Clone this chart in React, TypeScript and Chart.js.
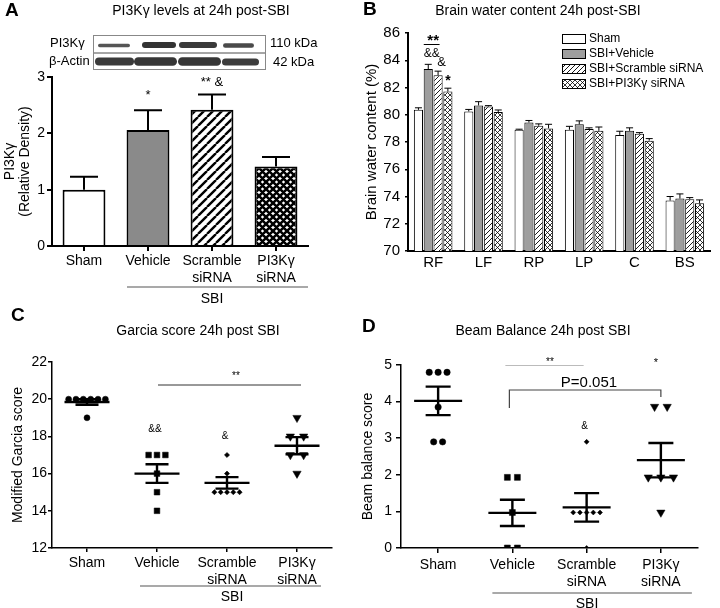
import React, { useEffect, useRef } from 'react';
import { Chart, registerables } from 'chart.js';

Chart.register(...registerables);

const FONT = "'Liberation Sans', Arial, Helvetica, sans-serif";
Chart.defaults.font.family = FONT;
Chart.defaults.color = '#000';

// ---------------- Panel A : PI3Kγ relative density ----------------
const aCategories: string[][] = [['Sham'], ['Vehicle'], ['Scramble', 'siRNA'], ['PI3Kγ', 'siRNA']];
const aValues = [1.0, 2.06, 2.42, 1.41];
const aErrors = [0.23, 0.35, 0.27, 0.17];
const aYTicks = [0, 1, 2, 3];
const aSignif = ['', '*', '** &', ''];

// ---------------- Panel B : brain water content ----------------
const bRegions = ['RF', 'LF', 'RP', 'LP', 'C', 'BS'];
const bSeriesNames = ['Sham', 'SBI+Vehicle', 'SBI+Scramble siRNA', 'SBI+PI3Kγ siRNA'];
const bSham = [80.36, 80.24, 78.9, 78.9, 78.52, 73.7];
const bShamErr = [0.15, 0.15, 0.04, 0.25, 0.27, 0.3];
const bVehicle = [83.35, 80.68, 79.43, 79.3, 78.82, 73.85];
const bVehicleErr = [0.35, 0.28, 0.15, 0.25, 0.22, 0.34];
const bScramble = [82.9, 80.6, 79.19, 78.95, 78.6, 73.8];
const bScrambleErr = [0.3, 0.07, 0.14, 0.09, 0.09, 0.12];
const bPI3K = [81.7, 80.2, 79.0, 78.82, 78.1, 73.5];
const bPI3KErr = [0.25, 0.15, 0.3, 0.28, 0.15, 0.25];
const bYTicks = [70, 72, 74, 76, 78, 80, 82, 84, 86];

// ---------------- Panel C : Garcia score ----------------
const groupCategories: string[][] = [['Sham'], ['Vehicle'], ['Scramble', 'siRNA'], ['PI3Kγ', 'siRNA']];
const cSham = [20, 20, 20, 20, 20, 20, 19];
const cVehicle = [17, 17, 17, 16, 15, 14];
const cScramble = [17, 16, 15, 15, 15, 15, 15];
const cPI3K = [19, 18, 18, 17, 17, 16];
const cMean = [19.85, 16.0, 15.5, 17.5];
const cSem = [0.15, 0.5, 0.31, 0.46];
const cYTicks = [12, 14, 16, 18, 20, 22];

// ---------------- Panel D : Beam balance ----------------
const dSham = [4.8, 4.8, 4.8, 3.85, 2.9, 2.9];
const dVehicle = [1.93, 1.93, 0.97, 0, 0];
const dScramble = [2.9, 0.97, 0.97, 0.97, 0.97, 0.97, 0];
const dPI3K = [3.86, 3.86, 1.93, 1.93, 1.93, 0.97];
const dMean = [4.02, 0.96, 1.11, 2.4];
const dSem = [0.39, 0.36, 0.39, 0.47];
const dYTicks = [0, 1, 2, 3, 4, 5];

// ---------------- helpers ----------------
function txt(ctx: CanvasRenderingContext2D, s: string, x: number, y: number, size: number, o: any = {}) {
  ctx.save();
  ctx.font = `${o.bold ? 'bold ' : ''}${size}px ${FONT}`;
  ctx.fillStyle = o.color || '#000';
  ctx.textAlign = o.align || 'center';
  ctx.textBaseline = o.baseline || 'middle';
  ctx.fillText(s, x, y);
  ctx.restore();
}

function hatch(size: number, lw: number, cross: boolean, bg = '#fff', fg = '#000') {
  const c = document.createElement('canvas');
  c.width = size; c.height = size;
  const g = c.getContext('2d')!;
  g.fillStyle = bg; g.fillRect(0, 0, size, size);
  g.strokeStyle = fg; g.lineWidth = lw;
  g.beginPath();
  for (const o of [-size, 0, size]) { g.moveTo(o, size); g.lineTo(o + size, 0); }
  if (cross) for (const o of [-size, 0, size]) { g.moveTo(o, 0); g.lineTo(o + size, size); }
  g.stroke();
  return g.createPattern(c, 'repeat')!;
}

function jitter(values: number[], center: number, spacing: number) {
  const counts = new Map<number, number>();
  values.forEach(v => counts.set(v, (counts.get(v) || 0) + 1));
  const seen = new Map<number, number>();
  return values.map(v => {
    const n = counts.get(v)!;
    const k = seen.get(v) || 0;
    seen.set(v, k + 1);
    return { x: center + (k - (n - 1) / 2) * spacing, y: v };
  });
}

function drawErrorBars(chart: any, errs: number[][], capHalf: number, lw: number) {
  const { ctx } = chart;
  const y = chart.scales.y;
  ctx.save();
  ctx.strokeStyle = '#000';
  ctx.lineWidth = lw;
  chart.data.datasets.forEach((ds: any, di: number) => {
    const meta = chart.getDatasetMeta(di);
    meta.data.forEach((bar: any, j: number) => {
      const top = y.getPixelForValue(ds.data[j] + errs[di][j]);
      ctx.beginPath();
      ctx.moveTo(bar.x, bar.y);
      ctx.lineTo(bar.x, top);
      ctx.moveTo(bar.x - capHalf, top);
      ctx.lineTo(bar.x + capHalf, top);
      ctx.stroke();
    });
  });
  ctx.restore();
}

function drawMeanSem(chart: any, means: number[], sems: number[], halfMean: number, halfCap: number) {
  const { ctx } = chart;
  const { x, y } = chart.scales;
  ctx.save();
  ctx.strokeStyle = '#000';
  ctx.lineWidth = 2.4;
  means.forEach((m, i) => {
    const cx = x.getPixelForValue(i);
    const ym = y.getPixelForValue(m);
    const yt = y.getPixelForValue(m + sems[i]);
    const yb = y.getPixelForValue(m - sems[i]);
    ctx.beginPath();
    ctx.moveTo(cx - halfMean, ym); ctx.lineTo(cx + halfMean, ym);
    ctx.moveTo(cx - halfCap, yt); ctx.lineTo(cx + halfCap, yt);
    ctx.moveTo(cx - halfCap, yb); ctx.lineTo(cx + halfCap, yb);
    ctx.moveTo(cx, yt); ctx.lineTo(cx, yb);
    ctx.stroke();
  });
  ctx.restore();
}

function groupLine(ctx: CanvasRenderingContext2D, x0: number, x1: number, y: number, label: string, lx: number, ly: number) {
  ctx.save();
  ctx.strokeStyle = '#555';
  ctx.lineWidth = 1.2;
  ctx.beginPath();
  ctx.moveTo(x0, y); ctx.lineTo(x1, y);
  ctx.stroke();
  ctx.restore();
  txt(ctx, label, lx, ly, 14);
}

function drawBlot(ctx: CanvasRenderingContext2D) {
  ctx.save();
  ctx.strokeStyle = '#888';
  ctx.lineWidth = 1;
  ctx.strokeRect(93.5, 35.5, 172, 17.5);
  ctx.strokeRect(93.5, 53, 172, 16.5);
  ctx.filter = 'blur(0.6px)';
  const band = (x0: number, x1: number, yc: number, h: number, col: string) => {
    ctx.fillStyle = col;
    ctx.beginPath();
    (ctx as any).roundRect(x0, yc - h / 2, x1 - x0, h, h / 2);
    ctx.fill();
  };
  band(98, 130, 45.5, 3.5, '#555');
  band(142, 176, 45, 6, '#333');
  band(179, 217, 45, 6, '#3a3a3a');
  band(223, 254, 45.5, 4.5, '#4a4a4a');
  band(95, 134, 61.5, 8, '#3a3a3a');
  band(134, 177, 61.5, 8.5, '#363636');
  band(178, 221, 61.5, 8.5, '#363636');
  band(222, 259, 62, 7, '#3c3c3c');
  ctx.restore();
  txt(ctx, 'PI3Kγ', 50, 43, 13, { align: 'left' });
  txt(ctx, 'β-Actin', 49, 61, 13, { align: 'left' });
  txt(ctx, '110 kDa', 270, 43, 13, { align: 'left' });
  txt(ctx, '42 kDa', 273, 62, 13, { align: 'left' });
}

const axisStyle = (tickLength: number, lw: number) => ({
  border: { display: true, color: '#000', width: lw },
  grid: { display: true, drawOnChartArea: false, drawTicks: true, tickLength, color: '#000', lineWidth: lw },
});

// ---------------- Panel builders ----------------
function buildA(canvas: HTMLCanvasElement) {
  const decor = {
    id: 'decorA',
    afterDatasetsDraw(chart: any) { drawErrorBars(chart, [aErrors], 14, 2); },
    afterDraw(chart: any) {
      const { ctx, chartArea } = chart;
      const { x, y } = chart.scales;
      txt(ctx, 'A', 5, 11, 19, { bold: true, align: 'left' });
      txt(ctx, 'PI3Kγ levels at 24h post-SBI', 201, 11, 14);
      drawBlot(ctx);
      aSignif.forEach((s, i) => {
        if (!s) return;
        const top = y.getPixelForValue(aValues[i] + aErrors[i]);
        txt(ctx, s, x.getPixelForValue(i), top - (s === '*' ? 15 : 12), 13);
      });
      const x0 = x.getPixelForValue(1) - 21;
      const x1 = x.getPixelForValue(3) + 32;
      groupLine(ctx, x0, x1, chartArea.bottom + 41, 'SBI', 212, chartArea.bottom + 53);
    },
  };
  return new Chart(canvas, {
    type: 'bar',
    data: {
      labels: aCategories as any,
      datasets: [{
        data: aValues,
        backgroundColor: ['#ffffff', '#8a8a8a', hatch(9, 2.4, false), hatch(7, 2.6, true)] as any,
        borderColor: '#000',
        borderWidth: 2,
        barPercentage: 0.67,
        categoryPercentage: 1,
      }],
    },
    options: {
      responsive: false,
      animation: false,
      layout: { padding: { left: 0, right: 52, top: 77, bottom: 14 } },
      plugins: { legend: { display: false }, tooltip: { enabled: false } },
      scales: {
        x: {
          ...axisStyle(5, 2),
          grid: { ...axisStyle(5, 2).grid, offset: false },
          ticks: { font: { size: 14 }, color: '#000', padding: 2, maxRotation: 0, autoSkip: false },
          afterFit: (s: any) => { s.height = 50; },
        },
        y: {
          ...axisStyle(5, 2),
          min: 0, max: 3,
          ticks: { font: { size: 14 }, color: '#000', padding: 2 },
          afterBuildTicks: (s: any) => { s.ticks = aYTicks.map(v => ({ value: v })); },
          title: { display: true, text: ['PI3Kγ', '(Relative Density)'], font: { size: 14, lineHeight: 1.1 }, color: '#000', padding: { top: 2.3, bottom: 0 } },
          afterFit: (s: any) => { s.width = 52; },
        },
      } as any,
    },
    plugins: [decor],
  });
}

function buildB(canvas: HTMLCanvasElement) {
  const fills = ['#ffffff', '#9e9e9e', hatch(5, 0.9, false), hatch(5, 0.8, true)];
  const series = [bSham, bVehicle, bScramble, bPI3K];
  const decor = {
    id: 'decorB',
    afterDatasetsDraw(chart: any) { drawErrorBars(chart, [bShamErr, bVehicleErr, bScrambleErr, bPI3KErr], 3.5, 1); },
    afterDraw(chart: any) {
      const { ctx } = chart;
      txt(ctx, 'B', 3, 10, 19, { bold: true, align: 'left' });
      txt(ctx, 'Brain water content 24h post-SBI', 178, 11, 14);
      // legend
      bSeriesNames.forEach((name, i) => {
        const cy = 39 + i * 15;
        ctx.save();
        ctx.fillStyle = fills[i] as any;
        ctx.fillRect(202, cy - 4.5, 23, 9);
        ctx.strokeStyle = '#000';
        ctx.lineWidth = 1;
        ctx.strokeRect(202.5, cy - 4.5, 23, 9);
        ctx.restore();
        txt(ctx, name, 229, cy, 12, { align: 'left' });
      });
      // significance marks on RF
      const v = chart.getDatasetMeta(1).data[0];
      const s = chart.getDatasetMeta(2).data[0];
      const p = chart.getDatasetMeta(3).data[0];
      txt(ctx, '**', (v.x + s.x) / 2, 41, 15, { bold: true });
      ctx.save();
      ctx.strokeStyle = '#000'; ctx.lineWidth = 1;
      ctx.beginPath(); ctx.moveTo(v.x - 4.5, 44.5); ctx.lineTo(s.x + 1.5, 44.5); ctx.stroke();
      ctx.restore();
      txt(ctx, '&&', v.x + 3.5, 53.5, 12);
      txt(ctx, '&', s.x + 3.5, 62.5, 13);
      txt(ctx, '*', p.x, 81, 14, { bold: true });
    },
  };
  return new Chart(canvas, {
    type: 'bar',
    data: {
      labels: bRegions,
      datasets: series.map((d, i) => ({
        label: bSeriesNames[i],
        data: d,
        backgroundColor: fills[i] as any,
        borderColor: '#000',
        borderWidth: 1,
        barPercentage: 0.93,
        categoryPercentage: 0.78,
      })),
    },
    options: {
      responsive: false,
      animation: false,
      layout: { padding: { left: 0, right: 10, top: 33, bottom: 9 } },
      plugins: { legend: { display: false }, tooltip: { enabled: false } },
      scales: {
        x: {
          border: { display: true, color: '#000', width: 2 },
          grid: { display: false, drawTicks: false },
          ticks: { font: { size: 15 }, color: '#000', padding: 3, maxRotation: 0, autoSkip: false },
          afterFit: (s: any) => { s.height = 40; },
        },
        y: {
          ...axisStyle(3, 1.5),
          border: { display: true, color: '#000', width: 2 },
          min: 70, max: 86,
          ticks: { font: { size: 15 }, color: '#000', padding: 5 },
          afterBuildTicks: (s: any) => { s.ticks = bYTicks.map(v => ({ value: v })); },
          title: { display: true, text: 'Brain water content (%)', font: { size: 15 }, color: '#000', padding: { top: 3, bottom: 0 } },
          afterFit: (s: any) => { s.width = 48; },
        },
      } as any,
    },
    plugins: [decor],
  });
}

function buildDots(canvas: HTMLCanvasElement, cfg: any) {
  return new Chart(canvas, {
    type: 'scatter',
    data: {
      datasets: cfg.groups.map((g: any, i: number) => ({
        data: jitter(g.vals, i, g.spacing),
        pointStyle: g.style,
        pointRadius: g.radius,
        pointRotation: g.rotation || 0,
        backgroundColor: '#000',
        borderColor: '#000',
        pointBorderWidth: 0.5,
      })),
    },
    options: {
      responsive: false,
      animation: false,
      layout: { padding: cfg.padding },
      plugins: { legend: { display: false }, tooltip: { enabled: false } },
      scales: {
        x: {
          ...axisStyle(cfg.xTick, 1.5),
          type: 'linear',
          min: -0.5, max: 3.5,
          afterBuildTicks: (s: any) => { s.ticks = groupCategories.map((_, i) => ({ value: i })); },
          ticks: {
            font: { size: 14 }, color: '#000', padding: cfg.xPad, maxRotation: 0, autoSkip: false,
            callback: (v: any) => groupCategories[v] || '',
          },
          afterFit: (s: any) => { s.height = 50; },
        },
        y: {
          ...axisStyle(cfg.yTick, 1.5),
          min: cfg.yMin, max: cfg.yMax,
          afterBuildTicks: (s: any) => { s.ticks = cfg.yTicks.map((v: number) => ({ value: v })); },
          ticks: { font: { size: 14 }, color: '#000', padding: cfg.yPad },
          title: { display: true, text: cfg.yTitle, font: { size: 14 }, color: '#000', padding: { top: cfg.titlePad, bottom: 0 } },
          afterFit: (s: any) => { s.width = cfg.yWidth; },
        },
      } as any,
    },
    plugins: [cfg.decor],
  });
}

function buildC(canvas: HTMLCanvasElement) {
  const decor = {
    id: 'decorC',
    afterDatasetsDraw(chart: any) { drawMeanSem(chart, cMean, cSem, 22.5, 11.5); },
    afterDraw(chart: any) {
      const { ctx, chartArea } = chart;
      const { x } = chart.scales;
      txt(ctx, 'C', 11, 16, 19, { bold: true, align: 'left' });
      txt(ctx, 'Garcia score 24h post SBI', 198, 31, 14);
      ctx.save();
      ctx.strokeStyle = '#333'; ctx.lineWidth = 1;
      ctx.beginPath(); ctx.moveTo(x.getPixelForValue(1) + 1, 85); ctx.lineTo(x.getPixelForValue(3) + 4, 85); ctx.stroke();
      ctx.restore();
      txt(ctx, '**', 236, 76, 10);
      txt(ctx, '&&', x.getPixelForValue(1) - 2, 129, 10);
      txt(ctx, '&', x.getPixelForValue(2) - 2, 136, 10);
      groupLine(ctx, x.getPixelForValue(1) - 17, x.getPixelForValue(3) + 24, chartArea.bottom + 38, 'SBI', 232, chartArea.bottom + 49);
    },
  };
  return buildDots(canvas, {
    groups: [
      { vals: cSham, style: 'circle', radius: 3, spacing: 0.105 },
      { vals: cVehicle, style: 'rect', radius: 4, spacing: 0.12 },
      { vals: cScramble, style: 'rectRot', radius: 2.6, spacing: 0.09 },
      { vals: cPI3K, style: 'triangle', radius: 4.8, spacing: 0.19, rotation: 180 },
    ],
    padding: { left: 0, right: 28, top: 62, bottom: 10 },
    yMin: 12, yMax: 22, yTicks: cYTicks,
    yTitle: 'Modified Garcia score', titlePad: 9.5, yWidth: 52,
    xTick: 4, xPad: 3, yTick: 4, yPad: 1,
    decor,
  });
}

function buildD(canvas: HTMLCanvasElement) {
  const decor = {
    id: 'decorD',
    afterDatasetsDraw(chart: any) { drawMeanSem(chart, dMean, dSem, 24, 12.5); },
    afterDraw(chart: any) {
      const { ctx, chartArea } = chart;
      const { x } = chart.scales;
      txt(ctx, 'D', 2, 27, 19, { bold: true, align: 'left' });
      txt(ctx, 'Beam Balance 24h post SBI', 183, 31, 14);
      ctx.save();
      ctx.strokeStyle = '#bbb'; ctx.lineWidth = 1;
      ctx.beginPath(); ctx.moveTo(x.getPixelForValue(1) - 7, 65.5); ctx.lineTo(x.getPixelForValue(2) - 3, 65.5); ctx.stroke();
      ctx.strokeStyle = '#444'; ctx.lineWidth = 1.2;
      const bx0 = x.getPixelForValue(1) - 3;
      const bx1 = x.getPixelForValue(3);
      ctx.beginPath(); ctx.moveTo(bx0, 108); ctx.lineTo(bx0, 90); ctx.lineTo(bx1, 90); ctx.lineTo(bx1, 97); ctx.stroke();
      ctx.restore();
      txt(ctx, '**', 190, 62, 10);
      txt(ctx, '*', x.getPixelForValue(3) - 5, 63, 11);
      txt(ctx, 'P=0.051', 229, 83, 15);
      txt(ctx, '&', x.getPixelForValue(2) - 2, 126, 10);
      groupLine(ctx, x.getPixelForValue(1) - 20, x.getPixelForValue(3) + 31, chartArea.bottom + 45, 'SBI', 227, chartArea.bottom + 56);
    },
  };
  return buildDots(canvas, {
    groups: [
      { vals: dSham, style: 'circle', radius: 3.2, spacing: 0.12 },
      { vals: dVehicle, style: 'rect', radius: 4.2, spacing: 0.135 },
      { vals: dScramble, style: 'rectRot', radius: 2.5, spacing: 0.09 },
      { vals: dPI3K, style: 'triangle', radius: 4.8, spacing: 0.17, rotation: 180 },
    ],
    padding: { left: 0, right: 22, top: 65, bottom: 10 },
    yMin: 0, yMax: 5, yTicks: dYTicks,
    yTitle: 'Beam balance score', titlePad: 0, yWidth: 41,
    xTick: 5, xPad: 4, yTick: 5, yPad: 4,
    decor,
  });
}

export default function App() {
  const refA = useRef<HTMLCanvasElement>(null);
  const refB = useRef<HTMLCanvasElement>(null);
  const refC = useRef<HTMLCanvasElement>(null);
  const refD = useRef<HTMLCanvasElement>(null);

  useEffect(() => {
    const charts: Chart[] = [];
    if (refA.current) charts.push(buildA(refA.current));
    if (refB.current) charts.push(buildB(refB.current));
    if (refC.current) charts.push(buildC(refC.current));
    if (refD.current) charts.push(buildD(refD.current));
    return () => charts.forEach(c => c.destroy());
  }, []);

  const abs = (left: number, top: number) => ({ position: 'absolute' as const, left, top });
  return (
    <div style={{ position: 'absolute', left: 0, top: 0, width: 720, height: 608, background: '#fff', overflow: 'hidden' }}>
      <canvas ref={refA} width={360} height={310} style={abs(0, 0)} />
      <canvas ref={refB} width={360} height={300} style={abs(360, 0)} />
      <canvas ref={refC} width={360} height={308} style={abs(0, 300)} />
      <canvas ref={refD} width={360} height={308} style={abs(360, 300)} />
    </div>
  );
}
